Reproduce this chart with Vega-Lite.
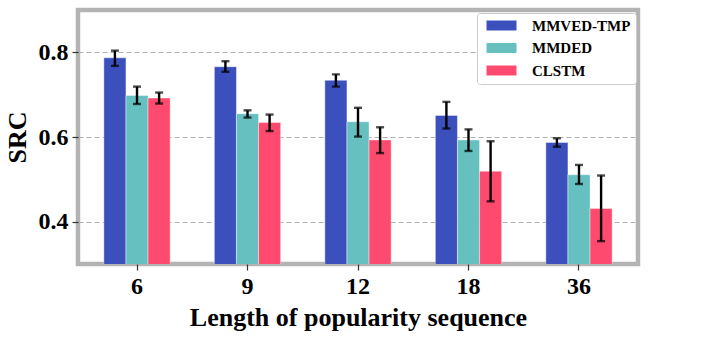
{
  "$schema": "https://vega.github.io/schema/vega-lite/v6.json",
  "width": 560,
  "height": 254,
  "autosize": "none",
  "padding": {"left": 78, "top": 10, "right": 67, "bottom": 74},
  "config": {
    "view": {"stroke": "#b3b3b3", "strokeWidth": 4.5},
    "font": "Liberation Serif"
  },
  "data": {
    "values": [
      {"len": 6, "model": "MMVED-TMP", "value": 0.787, "lo": 0.768, "hi": 0.804},
      {"len": 6, "model": "MMDED", "value": 0.698, "lo": 0.678, "hi": 0.719},
      {"len": 6, "model": "CLSTM", "value": 0.692, "lo": 0.679, "hi": 0.705},
      {"len": 9, "model": "MMVED-TMP", "value": 0.766, "lo": 0.754, "hi": 0.779},
      {"len": 9, "model": "MMDED", "value": 0.655, "lo": 0.646, "hi": 0.663},
      {"len": 9, "model": "CLSTM", "value": 0.634, "lo": 0.614, "hi": 0.653},
      {"len": 12, "model": "MMVED-TMP", "value": 0.734, "lo": 0.719, "hi": 0.748},
      {"len": 12, "model": "MMDED", "value": 0.636, "lo": 0.601, "hi": 0.669},
      {"len": 12, "model": "CLSTM", "value": 0.593, "lo": 0.562, "hi": 0.623},
      {"len": 18, "model": "MMVED-TMP", "value": 0.651, "lo": 0.620, "hi": 0.683},
      {"len": 18, "model": "MMDED", "value": 0.593, "lo": 0.567, "hi": 0.618},
      {"len": 18, "model": "CLSTM", "value": 0.519, "lo": 0.448, "hi": 0.590},
      {"len": 36, "model": "MMVED-TMP", "value": 0.587, "lo": 0.577, "hi": 0.597},
      {"len": 36, "model": "MMDED", "value": 0.511, "lo": 0.489, "hi": 0.534},
      {"len": 36, "model": "CLSTM", "value": 0.431, "lo": 0.354, "hi": 0.509}
    ]
  },
  "encoding": {
    "x": {
      "field": "len",
      "type": "ordinal",
      "sort": [6, 9, 12, 18, 36],
      "scale": {"paddingInner": 0.4, "paddingOuter": 0.234},
      "axis": {
        "labelAngle": 0,
        "labelPadding": 4,
        "labelFont": "Liberation Serif",
        "labelFontWeight": 900,
        "labelFontSize": 24,
        "labelColor": "black",
        "title": "Length of popularity sequence",
        "titleFont": "Liberation Serif",
        "titleFontWeight": "bold",
        "titleFontSize": 26,
        "titleColor": "black",
        "titlePadding": 6,
        "grid": false,
        "domain": false,
        "tickColor": "#333333",
        "tickSize": 6,
        "tickWidth": 1.2
      }
    },
    "xOffset": {
      "field": "model",
      "type": "nominal",
      "sort": ["MMVED-TMP", "MMDED", "CLSTM"],
      "scale": {"paddingInner": 0, "paddingOuter": 0}
    }
  },
  "layer": [
    {
      "mark": {"type": "bar", "clip": true, "stroke": "white", "strokeWidth": 0.8, "strokeOpacity": 0.5},
      "encoding": {
        "y": {
          "field": "value",
          "type": "quantitative",
          "scale": {"domain": [0.3, 0.9], "nice": false, "zero": false},
          "axis": {
            "values": [0.4, 0.6, 0.8],
            "format": ".1f",
            "labelFont": "Liberation Serif",
            "labelFontWeight": 900,
            "labelFontSize": 24,
            "labelColor": "black",
            "labelPadding": 4,
            "title": "SRC",
            "titleFont": "Liberation Serif",
            "titleFontWeight": "bold",
            "titleFontSize": 26,
            "titleColor": "black",
            "titlePadding": 8,
            "grid": true,
            "gridDash": [5, 3],
            "gridColor": "#b0b0b0",
            "gridWidth": 1.2,
            "domain": false,
            "tickColor": "#333333",
            "tickSize": 6,
            "tickWidth": 1.2
          }
        },
        "color": {
          "field": "model",
          "type": "nominal",
          "sort": ["MMVED-TMP", "MMDED", "CLSTM"],
          "scale": {"domain": ["MMVED-TMP", "MMDED", "CLSTM"], "range": ["#3b50bd", "#67c0c0", "#fe4a6e"]},
          "legend": {
            "title": null,
            "orient": "none",
            "legendX": 399,
            "legendY": 3,
            "symbolType": "M-0.6,-1H5.4V1H-0.6Z",
            "symbolSize": 100,
            "symbolStrokeWidth": 0,
            "labelFont": "Liberation Serif",
            "labelFontSize": 15,
            "labelFontWeight": "bold",
            "labelColor": "black",
            "labelOffset": 35,
            "fillColor": "white",
            "strokeColor": "#cccccc",
            "padding": 5,
            "cornerRadius": 3,
            "rowPadding": 6.5
          }
        }
      }
    },
    {
      "mark": {"type": "rule", "color": "black", "strokeWidth": 2.4},
      "encoding": {
        "y": {"field": "lo", "type": "quantitative"},
        "y2": {"field": "hi"}
      }
    },
    {
      "mark": {"type": "tick", "color": "black", "size": 8, "thickness": 2.4, "orient": "horizontal"},
      "encoding": {"y": {"field": "lo", "type": "quantitative"}}
    },
    {
      "mark": {"type": "tick", "color": "black", "size": 8, "thickness": 2.4, "orient": "horizontal"},
      "encoding": {"y": {"field": "hi", "type": "quantitative"}}
    }
  ]
}
